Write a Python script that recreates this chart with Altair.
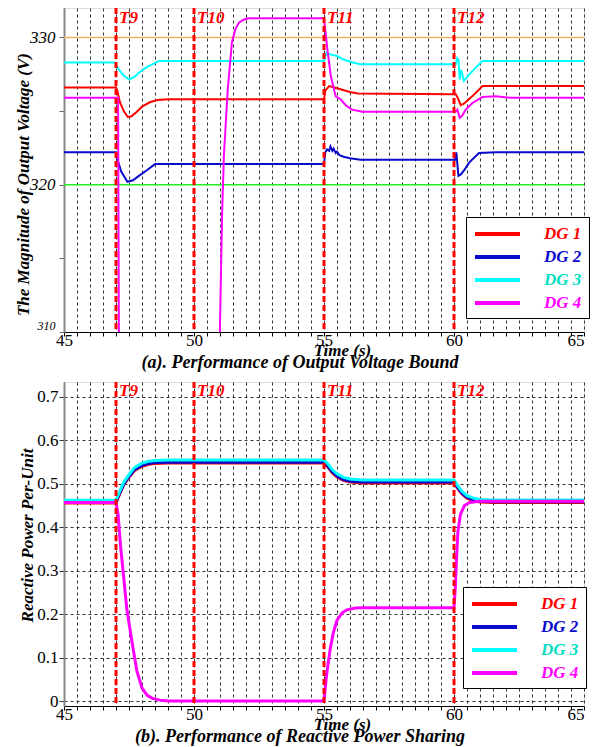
import altair as alt
import pandas as pd

FONT = "Liberation Serif"

series = ["DG 1", "DG 2", "DG 3", "DG 4"]
line_colors = ["#ff0000", "#0a0acc", "#00ffff", "#ff00ff"]
label_colors = ["#ff0000", "#0a0acc", "#00e0c4", "#ff00ff"]

events_t = [47, 50, 55, 60]
events_lbl = ["T9", "T10", "T11", "T12"]

bound_hi = [330]
bound_lo = [320]

# ---- (a) output voltage magnitude (V) ----
va_t1 = [45, 47.0, 47.05, 47.15, 47.3, 47.45, 47.6, 47.8, 48.0, 48.3, 48.6, 49.0,
         55.0, 55.05, 55.2, 55.6, 56.0, 56.3, 60.0, 60.07, 60.17, 60.26, 60.38,
         60.7, 61.1, 61.6, 65]
va_v1 = [326.6, 326.6, 326.4, 325.6, 325.0, 324.6, 324.65, 324.95, 325.3, 325.6,
         325.75, 325.8, 325.8, 326.4, 326.7, 326.5, 326.3, 326.2, 326.15, 326.15,
         325.8, 325.4, 325.5, 326.0, 326.7, 326.7, 326.7]

va_t2 = [45, 47.0, 47.05, 47.2, 47.44, 47.65, 47.88, 48.2, 48.5, 49.0, 55.0, 55.05,
         55.12, 55.2, 55.25, 55.32, 55.37, 55.45, 55.5, 55.6, 55.75, 56.0, 56.4,
         60.0, 60.04, 60.09, 60.17, 60.26, 60.4, 60.58, 60.96, 61.6, 65]
va_v2 = [322.2, 322.2, 321.75, 320.9, 320.2, 320.3, 320.6, 321.0, 321.4, 321.4,
         321.4, 322.2, 322.4, 322.3, 322.6, 322.3, 322.45, 322.15, 322.25, 322.0,
         321.9, 321.8, 321.7, 321.7, 321.7, 322.2, 320.6, 320.7, 321.0, 321.5,
         322.15, 322.2, 322.2]

va_t3 = [45, 46.95, 47.1, 47.3, 47.5, 47.7, 47.88, 48.2, 48.65, 55.0, 55.1, 55.25,
         55.5, 55.75, 56.1, 56.4, 60.0, 60.07, 60.12, 60.17, 60.22, 60.27, 60.32,
         60.38, 60.5, 60.7, 61.09, 61.6, 65]
va_v3 = [328.3, 328.3, 327.84, 327.4, 327.16, 327.3, 327.6, 328.0, 328.4, 328.4,
         328.97, 328.85, 328.74, 328.5, 328.3, 328.18, 328.18, 328.18, 328.6, 328.5,
         327.16, 327.8, 327.5, 327.05, 327.3, 327.7, 328.4, 328.4, 328.4]

va_t4 = [45, 47.08, 47.12, 50.98, 51.0, 51.08, 51.15, 51.3, 51.46, 51.6, 51.73,
         51.9, 52.1, 55.0, 55.13, 55.26, 55.45, 55.64, 55.83, 56.08, 56.47, 60.0,
         60.06, 60.13, 60.22, 60.32, 60.45, 60.71, 61.09, 61.6, 62.2, 65]
va_v4 = [325.9, 325.9, 305, 305, 310.5, 318.0, 322.0, 326.5, 329.7, 330.6, 331.0,
         331.2, 331.3, 331.3, 329.2, 327.4, 326.0, 325.8, 325.4, 325.1, 324.95,
         324.95, 324.95, 325.1, 324.55, 324.7, 325.1, 325.55, 325.95, 326.0, 325.9,
         325.9]

# ---- (b) reactive power per-unit ----
qb_t1 = [45, 47.0, 47.15, 47.3, 47.46, 47.7, 47.98, 48.25, 48.5, 49.0, 55.0, 55.15,
         55.3, 55.5, 55.75, 56.0, 56.5, 60.0, 60.15, 60.3, 60.5, 60.75, 61.0, 61.5, 65]
qb_v1 = [0.456, 0.456, 0.478, 0.498, 0.512, 0.530, 0.540, 0.545, 0.547, 0.548, 0.548,
         0.539, 0.527, 0.516, 0.508, 0.504, 0.502, 0.502, 0.489, 0.477, 0.467, 0.461,
         0.458, 0.457, 0.457]

qb_t2 = qb_t1
qb_v2 = [0.458, 0.458, 0.480, 0.500, 0.514, 0.532, 0.542, 0.547, 0.549, 0.550, 0.550,
         0.541, 0.529, 0.518, 0.510, 0.506, 0.504, 0.504, 0.491, 0.479, 0.469, 0.463,
         0.460, 0.459, 0.459]

qb_t3 = qb_t1
qb_v3 = [0.462, 0.462, 0.484, 0.504, 0.518, 0.537, 0.547, 0.552, 0.554, 0.555, 0.555,
         0.546, 0.534, 0.523, 0.515, 0.511, 0.509, 0.509, 0.495, 0.483, 0.473, 0.467,
         0.464, 0.463, 0.463]

qb_t4 = [45, 47.0, 47.08, 47.17, 47.27, 47.42, 47.62, 47.8, 48.0, 48.2, 48.4, 48.7,
         49.0, 55.0, 55.1, 55.23, 55.35, 55.5, 55.7, 55.88, 56.2, 56.5, 60.0, 60.05,
         60.1, 60.15, 60.25, 60.4, 60.6, 61.0, 65]
qb_v4 = [0.457, 0.457, 0.43, 0.36, 0.30, 0.21, 0.134, 0.07, 0.03, 0.013, 0.006, 0.002,
         0.0, 0.0, 0.06, 0.117, 0.155, 0.186, 0.203, 0.21, 0.214, 0.215, 0.215, 0.26,
         0.33, 0.39, 0.43, 0.45, 0.457, 0.46, 0.46]

x_ticks = [45 + 0.5 * i for i in range(41)]
ya_ticks = [310, 315, 320, 325, 330]
yb_ticks = [0, 0.1, 0.2, 0.3, 0.4, 0.5, 0.6, 0.7]


def frame(ts, vs):
    rows = []
    for name, t, v in zip(series, ts, vs):
        for a, b in zip(t, v):
            rows.append({"t": a, "v": b, "s": name})
    return pd.DataFrame(rows)


df_a = frame([va_t1, va_t2, va_t3, va_t4], [va_v1, va_v2, va_v3, va_v4])
df_b = frame([qb_t1, qb_t2, qb_t3, qb_t4], [qb_v1, qb_v2, qb_v3, qb_v4])
df_ev = pd.DataFrame({"t": events_t, "lbl": events_lbl})

label_expr = " : ".join(
    f"datum.label == '{s}' ? '{c}'" for s, c in zip(series[:-1], label_colors[:-1])
) + f" : '{label_colors[-1]}'"

W = 520
H = 324


def x_enc(title_y):
    return alt.X(
        "t:Q",
        scale=alt.Scale(domain=[45, 65], nice=False, zero=False),
        axis=alt.Axis(
            values=x_ticks,
            labelExpr="datum.value % 5 == 0 ? format(datum.value, 'd') : ''",
            labelAlign={"condition": {"test": "datum.value == 65", "value": "right"}, "value": "center"},
            labelFont=FONT, labelFontSize=17, labelColor="black", labelPadding=-4,
            tickSize=4, tickColor="black", domainColor="black", domainWidth=1,
            grid=True, gridDash=[3, 3], gridColor="#333333", gridWidth=1,
            title="Time (s)", titleFont=FONT, titleFontSize=17, titleFontStyle="italic",
            titleFontWeight="bold", titleX=278, titleY=title_y, titleBaseline="top",
            titleColor="black",
        ),
    )


def legend(lx, ly):
    return alt.Legend(
        orient="none", legendX=lx, legendY=ly, title=None,
        symbolType="M-1,0H4.625", symbolSize=256, symbolStrokeWidth=4,
        labelFont=FONT, labelFontSize=17, labelFontStyle="italic", labelFontWeight="bold",
        labelColor={"expr": label_expr}, labelOffset=51, padding=7, rowPadding=5,
        strokeColor="black", fillColor="white", symbolOpacity=1,
    )


color_scale = alt.Scale(domain=series, range=line_colors)

# ---------------- panel (a) ----------------
xa = x_enc(10)
ya = alt.Y(
    "v:Q",
    scale=alt.Scale(domain=[310, 332], nice=False, zero=False),
    axis=alt.Axis(
        values=ya_ticks,
        labelExpr="datum.value % 10 == 0 ? format(datum.value, 'd') : ''",
        labelFont=FONT, labelFontStyle="italic", labelColor="black",
        labelFontSize={"condition": {"test": "datum.value == 310", "value": 12}, "value": 17},
        labelFlush=True, labelPadding=4,
        tickSize=5, tickColor="#666666", domainColor="#888888", domainWidth=2,
        grid=False,
        title="The Magnitude of Output Voltage (V)", titleFont=FONT, titleFontSize=17,
        titleFontStyle="italic", titleFontWeight="bold", titleColor="black",
        titleX=-41, titleY=176, titleBaseline="middle", titleAngle=-90,
    ),
)

hi = alt.Chart(pd.DataFrame({"v": bound_hi})).mark_rule(color="#f5b06a", strokeWidth=1.5).encode(y=ya)
lo = alt.Chart(pd.DataFrame({"v": bound_lo})).mark_rule(color="#22ee22", strokeWidth=1.5).encode(y=ya)
lines_a = alt.Chart(df_a).mark_line(clip=True, strokeWidth=2).encode(
    x=xa, y=ya,
    color=alt.Color("s:N", scale=color_scale, legend=legend(402, 209)),
)
ev_a = alt.Chart(df_ev).mark_rule(color="#ff0000", strokeWidth=3, strokeDash=[6, 3]).encode(x=xa)
tx_a = alt.Chart(df_ev).mark_text(
    color="#ff0000", font=FONT, fontSize=17, fontStyle="italic", fontWeight="bold",
    align="left", baseline="top", dx=3, dy=2,
).encode(x=xa, y=alt.value(0), text="lbl:N")

panel_a = alt.layer(hi, lo, lines_a, ev_a, tx_a).properties(
    width=W, height=H,
    title=alt.TitleParams(
        "(a). Performance of Output Voltage Bound", orient="bottom", anchor="middle",
        frame="group", dx=-24, offset=-4, font=FONT, fontSize=18, fontStyle="italic",
        fontWeight="bold", color="black",
    ),
)

# ---------------- panel (b) ----------------
xb = x_enc(10)
yb = alt.Y(
    "v:Q",
    scale=alt.Scale(domain=[-0.0115, 0.7345], nice=False, zero=False),
    axis=alt.Axis(
        values=yb_ticks,
        labelExpr="datum.value == 0 ? '0' : format(datum.value, '.1f')",
        labelFont=FONT, labelFontSize=17, labelColor="black", labelPadding=1,
        tickSize=5, tickColor="#333333", domainColor="#888888", domainWidth=2,
        grid=True, gridDash=[3, 3], gridColor="#333333", gridWidth=1,
        title="Reactive Power Per-Unit", titleFont=FONT, titleFontSize=17,
        titleFontStyle="italic", titleFontWeight="bold", titleColor="black",
        titleX=-37, titleY=153, titleBaseline="middle", titleAngle=-90,
    ),
)

lines_b = alt.Chart(df_b).mark_line(clip=True, strokeWidth=3).encode(
    x=xb, y=yb,
    color=alt.Color("s:N", scale=color_scale, legend=legend(399, 205)),
)
ev_b = alt.Chart(df_ev).mark_rule(color="#ff0000", strokeWidth=3, strokeDash=[6, 3]).encode(x=xb)
tx_b = alt.Chart(df_ev).mark_text(
    color="#ff0000", font=FONT, fontSize=17, fontStyle="italic", fontWeight="bold",
    align="left", baseline="top", dx=3, dy=1,
).encode(x=xb, y=alt.value(0), text="lbl:N")

panel_b = alt.layer(lines_b, ev_b, tx_b).properties(
    width=W, height=H,
    title=alt.TitleParams(
        "(b). Performance of Reactive Power Sharing", orient="bottom", anchor="middle",
        frame="group", dx=-24, offset=-4, font=FONT, fontSize=18, fontStyle="italic",
        fontWeight="bold", color="black",
    ),
)

chart = (
    alt.vconcat(panel_a, panel_b, spacing=50, bounds="flush")
    .resolve_legend(color="independent")
    .properties(padding={"left": 5, "top": -2, "right": 2, "bottom": 2})
    .configure_view(stroke=None)
    .configure(background="white")
)

chart.save("out.html", embed_options={"renderer": "svg", "actions": False})
